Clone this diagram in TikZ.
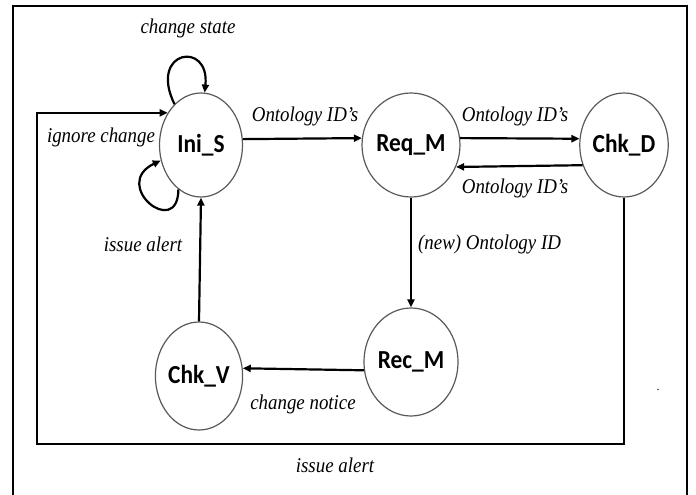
\documentclass[tikz,border=0pt]{standalone}
\usepackage{fontspec}
\setmainfont{Liberation Serif}
\newfontfamily\statefont[FakeStretch=0.9]{Carlito}
\newfontfamily\lblfont[FakeStretch=0.9]{Liberation Serif}
\usetikzlibrary{shapes.geometric,arrows.meta}
\begin{document}
\begin{tikzpicture}[x=1pt,y=-1pt,
  stbox/.style={ellipse, draw=black!65, line width=1.2pt, minimum width=83pt, minimum height=104pt, inner sep=0pt, font=\statefont\bfseries\fontsize{26}{26}\selectfont},
  conn/.style={line width=2.2pt, -{Triangle[length=8pt,width=7pt]}},
  lbl/.style={font=\lblfont\itshape\fontsize{21}{21}\selectfont, inner sep=0pt},
  frame/.style={line width=2pt}]
\useasboundingbox (0,0) rectangle (696,495);
% outer frame (open at bottom)
\draw[frame] (12.5,495) -- (12.5,6) -- (687,6) -- (687,495);

% states
\node[stbox] (IniS) at (201,145) {Ini\_S};
\node[stbox] (ReqM) at (411,145) {Req\_M};
\node[stbox] (ChkD) at (624,145) {Chk\_D};
\node[stbox, minimum height=108pt] (RecM) at (411,362) {Rec\_M};
\node[stbox, minimum height=108pt] (ChkV) at (199,376) {Chk\_V};

% connectors
\draw[conn] (IniS.8) -- (ReqM.172);
\draw[conn] (ReqM.8) -- (ChkD.172);
\draw[conn] (ChkD.206) -- (ReqM.-26);
\draw[conn] (ReqM.south) -- (RecM.north);
\draw[conn] (RecM.190) -- (ChkV.10);
\draw[conn] (ChkV.north) -- (IniS.south);
\coordinate (fb) at (37,444);
\draw[conn] (ChkD.south) |- (fb) |- (IniS.136);
% self loops
\draw[conn] (IniS.123) .. controls (148,50) and (210,40) .. (IniS.86);
\draw[conn] (IniS.243) .. controls (178,240) and (110,185) .. (IniS.201);

% labels
\node[lbl] (l1) at (188,28) {change state};
\node[lbl] (l2) at (101,137) {ignore change};
\node[lbl] (l3) at (305,116) {Ontology ID’s};
\node[lbl] (l4) at (515,116) {Ontology ID’s};
\node[lbl] (l5) at (515,188) {Ontology ID’s};
\node[lbl, anchor=west] (l6) at (418,244) {(new) Ontology ID};
\node[lbl] (l7) at (143,244) {issue alert};
\node[lbl] (l8) at (303,404) {change notice};
\node[lbl] (l9) at (335,465) {issue alert};
\node[inner sep=0pt, font=\fontsize{12}{12}\selectfont] (dot) at (658,390) {.};
\end{tikzpicture}
\end{document}
